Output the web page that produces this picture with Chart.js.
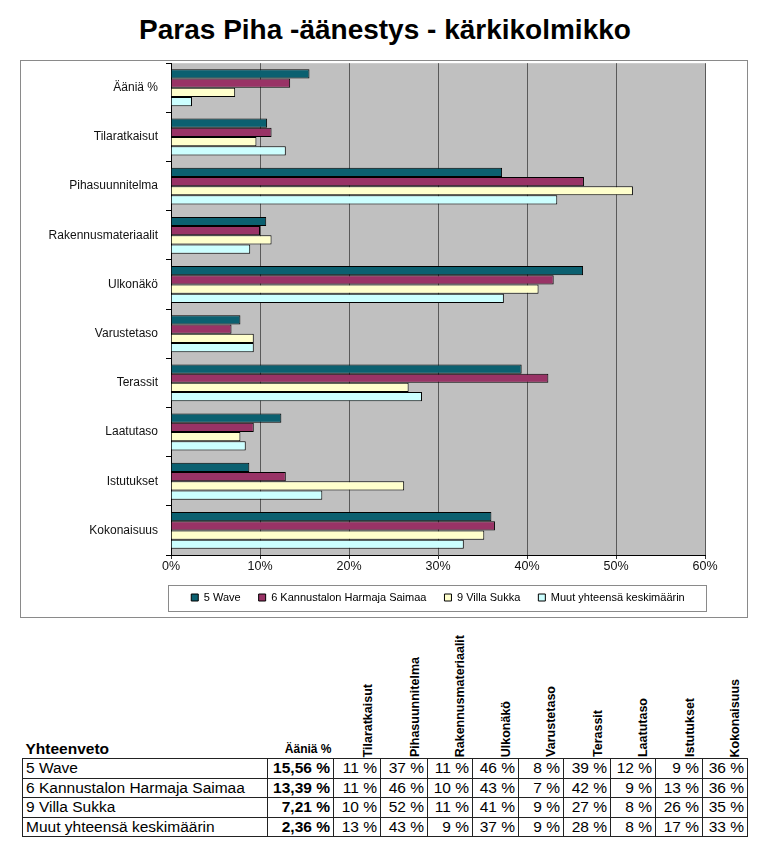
<!DOCTYPE html>
<html lang="fi">
<head>
<meta charset="UTF-8">
<title>Paras Piha -äänestys - kärkikolmikko</title>
<script src="https://cdn.jsdelivr.net/npm/chart.js"></script>
<style>
  body { margin: 0; background: #fff; font-family: "Liberation Sans", Arial, sans-serif; color: #000; }
  #title { position: absolute; left: 0; width: 770px; top: 14px; text-align: center; font-size: 28px; font-weight: bold; line-height: 32px; }
  #chartBox { position: absolute; left: 20px; top: 60px; width: 726px; height: 556px; border: 1px solid #8a8a8a; }
  #canvasWrap { position: absolute; left: 0; top: -13px; width: 726px; height: 569px; }
  #summary { position: absolute; left: 22px; top: 635px; border-collapse: collapse; font-size: 15.5px; }
  #summary th { font-weight: bold; vertical-align: bottom; padding: 0 0 1px 0; line-height: 1; }
  #summary th.name { text-align: left; font-size: 15.5px; padding-left: 3px; padding-bottom: 2px; }
  #summary th.votes { text-align: right; font-size: 12px; padding-right: 2px; padding-bottom: 3px; }
  #summary th.rot { text-align: right; padding-right: 5px; font-size: 12.5px; }
  #summary th.rot span { display: inline-block; vertical-align: bottom; writing-mode: vertical-rl; transform: rotate(180deg); line-height: 15px; }
  #summary td { border: 1px solid #222; padding: 0 3px; line-height: 18.5px; text-align: right; white-space: nowrap; }
  #summary td.name { text-align: left; }
  #summary td.votes { font-weight: bold; }
</style>
</head>
<body>
<div id="title">Paras Piha -äänestys - kärkikolmikko</div>
<div id="chartBox"><div id="canvasWrap"><canvas id="chart"></canvas></div></div>
<table id="summary"></table>

<script>
// luokat (y-akseli) ja sarjat
const categories = ['Ääniä %', 'Tilaratkaisut', 'Pihasuunnitelma', 'Rakennusmateriaalit', 'Ulkonäkö',
                    'Varustetaso', 'Terassit', 'Laatutaso', 'Istutukset', 'Kokonaisuus'];
const seriesNames = ['5 Wave', '6 Kannustalon Harmaja Saimaa', '9 Villa Sukka', 'Muut yhteensä keskimäärin'];
const seriesColors = ['#0b6070', '#993366', '#ffffcc', '#ccffff'];

const wave       = [15.56, 10.8, 37.2, 10.7, 46.3, 7.8, 39.4, 12.4, 8.8, 36.0];
const kannustalo = [13.39, 11.3, 46.4, 10.0, 43.0, 6.8, 42.4, 9.3, 12.9, 36.4];
const villaSukka = [7.21, 9.6, 51.9, 11.3, 41.3, 9.3, 26.7, 7.8, 26.2, 35.2];
const muut       = [2.36, 12.9, 43.4, 8.9, 37.4, 9.3, 28.2, 8.4, 17.0, 32.9];

const xTicks = [0, 10, 20, 30, 40, 50, 60];

const allSeries = [wave, kannustalo, villaSukka, muut];

// harmaa piirtoalue
const plotBg = {
  id: 'plotBg',
  beforeDraw(chart) {
    const a = chart.chartArea, ctx = chart.ctx;
    ctx.save();
    ctx.fillStyle = '#c0c0c0';
    ctx.fillRect(a.left, a.top, a.right - a.left, a.bottom - a.top);
    ctx.restore();
  }
};

// kehys selitteen ympärille
const legendFrame = {
  id: 'legendFrame',
  afterDraw(chart) {
    const lg = chart.legend, a = chart.chartArea, ctx = chart.ctx;
    if (!lg || !lg.legendHitBoxes.length) return;
    const hb = lg.legendHitBoxes[0];
    const cy = hb.top + hb.height / 2;
    ctx.save();
    ctx.strokeStyle = '#8a8a8a';
    ctx.lineWidth = 1;
    ctx.strokeRect(Math.round(a.left) - 2.5, Math.round(cy) - 12.5, (a.right - a.left) + 4, 26);
    ctx.restore();
  }
};

new Chart(document.getElementById('chart'), {
  type: 'bar',
  data: {
    labels: categories,
    datasets: allSeries.map((d, i) => ({
      label: seriesNames[i],
      data: d,
      backgroundColor: seriesColors[i],
      borderColor: '#000',
      borderWidth: 1,
      categoryPercentage: 0.75,
      barPercentage: 1.0
    }))
  },
  options: {
    indexAxis: 'y',
    responsive: true,
    maintainAspectRatio: false,
    animation: false,
    layout: { padding: { top: 0, right: 42, bottom: 4, left: 0 } },
    plugins: {
      tooltip: { enabled: false },
      legend: {
        position: 'bottom',
        fullSize: false,
        labels: {
          boxWidth: 7,
          boxHeight: 7,
          padding: 18,
          color: '#000',
          font: { family: 'Liberation Sans', size: 11 }
        }
      }
    },
    scales: {
      x: {
        min: 0,
        max: 60,
        afterBuildTicks(scale) { scale.ticks = xTicks.map(v => ({ value: v })); },
        ticks: {
          padding: 0,
          color: '#111',
          font: { family: 'Liberation Sans', size: 12.5 },
          callback: v => v + '%'
        },
        grid: { color: '#5a5a5a', lineWidth: 1, tickLength: 4, tickColor: '#333' },
        border: { color: '#000', width: 1 }
      },
      y: {
        afterFit(scale) { scale.width = 150; },
        ticks: {
          padding: 8,
          color: '#111',
          font: { family: 'Liberation Sans', size: 12 }
        },
        grid: { drawOnChartArea: false, tickLength: 5, color: '#000', offset: true },
        border: { color: '#000', width: 1 }
      }
    }
  },
  plugins: [plotBg, legendFrame]
});

// yhteenvetotaulukko
const table = document.getElementById('summary');
const colWidths = [245, 66, 47, 47, 45, 46, 45, 47, 45, 47, 45];
let html = '<colgroup>' + colWidths.map(w => '<col style="width:' + w + 'px">').join('') + '</colgroup>';
html += '<tr><th class="name">Yhteenveto</th><th class="votes">' + categories[0] + '</th>';
for (let i = 1; i < categories.length; i++) {
  html += '<th class="rot"><span>' + categories[i] + '</span></th>';
}
html += '</tr>';
allSeries.forEach((d, s) => {
  html += '<tr><td class="name">' + seriesNames[s] + '</td>';
  html += '<td class="votes">' + d[0].toFixed(2).replace('.', ',') + ' %</td>';
  for (let i = 1; i < d.length; i++) html += '<td>' + Math.round(d[i]) + ' %</td>';
  html += '</tr>';
});
table.innerHTML = html;
</script>
</body>
</html>
